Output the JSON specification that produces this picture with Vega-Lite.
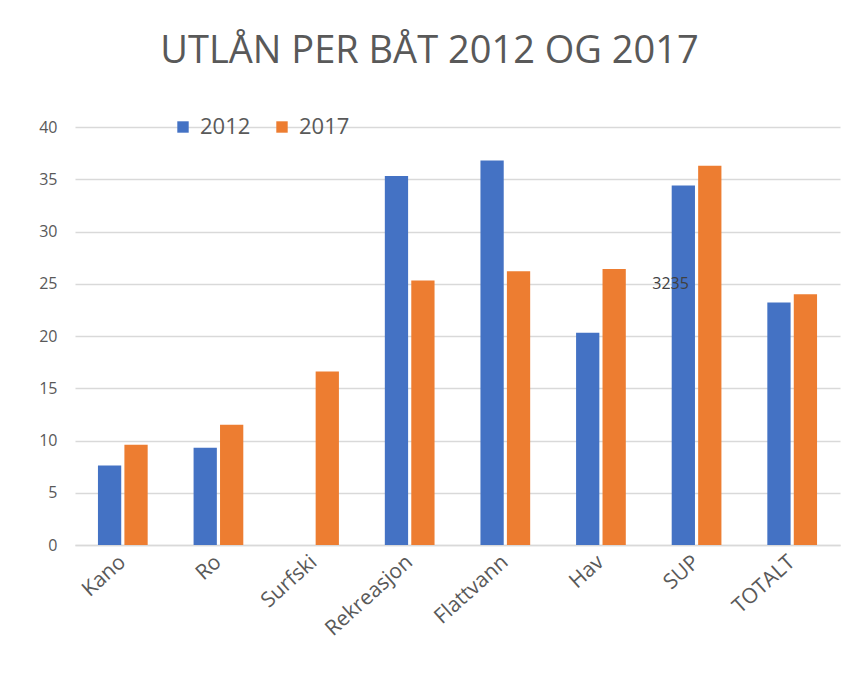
{
  "$schema": "https://vega.github.io/schema/vega-lite/v6.json",
  "width": 765,
  "height": 418,
  "autosize": {"type": "none"},
  "padding": {"left": 75, "top": 127, "right": 9, "bottom": 141},
  "background": "white",
  "title": {
    "text": "UTLÅN PER BÅT 2012 OG 2017",
    "font": "Open Sans",
    "fontSize": 38,
    "fontWeight": "normal",
    "color": "#595959",
    "anchor": "middle",
    "offset": 45,
    "dx": -28
  },
  "config": {
    "view": {"stroke": null},
    "font": "Open Sans"
  },
  "datasets": {
    "bars": [
      {"category": "Kano", "year": "2012", "value": 7.6},
      {"category": "Kano", "year": "2017", "value": 9.6},
      {"category": "Ro", "year": "2012", "value": 9.3},
      {"category": "Ro", "year": "2017", "value": 11.5},
      {"category": "Surfski", "year": "2017", "value": 16.6},
      {"category": "Rekreasjon", "year": "2012", "value": 35.3},
      {"category": "Rekreasjon", "year": "2017", "value": 25.3},
      {"category": "Flattvann", "year": "2012", "value": 36.8},
      {"category": "Flattvann", "year": "2017", "value": 26.2},
      {"category": "Hav", "year": "2012", "value": 20.3},
      {"category": "Hav", "year": "2017", "value": 26.4},
      {"category": "SUP", "year": "2012", "value": 34.4},
      {"category": "SUP", "year": "2017", "value": 36.3},
      {"category": "TOTALT", "year": "2012", "value": 23.2},
      {"category": "TOTALT", "year": "2017", "value": 24.0}
    ],
    "notes": [
      {"category": "SUP", "value": 25, "label": "3235"}
    ]
  },
  "layer": [
    {
      "data": {"name": "bars"},
      "mark": {"type": "bar"},
      "encoding": {
        "x": {
          "field": "category",
          "type": "nominal",
          "sort": ["Kano", "Ro", "Surfski", "Rekreasjon", "Flattvann", "Hav", "SUP", "TOTALT"],
          "scale": {"paddingInner": 0.48, "paddingOuter": 0.24},
          "axis": {
            "title": null,
            "labelAngle": -42,
            "labelAlign": "right",
            "labelBaseline": "middle",
            "labelFont": "Open Sans",
            "labelFontSize": 21,
            "labelColor": "#595959",
            "labelPadding": 14,
            "ticks": false,
            "domainColor": "#d9d9d9",
            "domainWidth": 1.5
          }
        },
        "xOffset": {
          "field": "year",
          "type": "nominal",
          "scale": {"paddingInner": 0.12}
        },
        "y": {
          "field": "value",
          "type": "quantitative",
          "scale": {"domain": [0, 40]},
          "axis": {
            "title": null,
            "values": [0, 5, 10, 15, 20, 25, 30, 35, 40],
            "domain": false,
            "ticks": false,
            "labelFont": "Open Sans",
            "labelFontSize": 16,
            "labelColor": "#595959",
            "labelPadding": 18,
            "gridColor": "#d9d9d9",
            "gridWidth": 1.5
          }
        },
        "color": {
          "field": "year",
          "type": "nominal",
          "scale": {"domain": ["2012", "2017"], "range": ["#4472C4", "#ED7D31"]},
          "legend": {
            "title": null,
            "orient": "none",
            "direction": "horizontal",
            "legendX": 97,
            "legendY": -11,
            "symbolType": "square",
            "symbolSize": 130,
            "symbolStrokeWidth": 0,
            "labelFont": "Open Sans",
            "labelFontSize": 22,
            "labelColor": "#595959",
            "columnPadding": 20,
            "labelOffset": 6
          }
        }
      }
    },
    {
      "data": {"name": "notes"},
      "mark": {"type": "text", "font": "Open Sans", "fontSize": 16, "color": "#404040", "align": "center", "baseline": "middle", "dx": -26},
      "encoding": {
        "x": {"field": "category", "type": "nominal", "sort": ["Kano", "Ro", "Surfski", "Rekreasjon", "Flattvann", "Hav", "SUP", "TOTALT"]},
        "y": {"field": "value", "type": "quantitative"},
        "text": {"field": "label"}
      }
    }
  ]
}
